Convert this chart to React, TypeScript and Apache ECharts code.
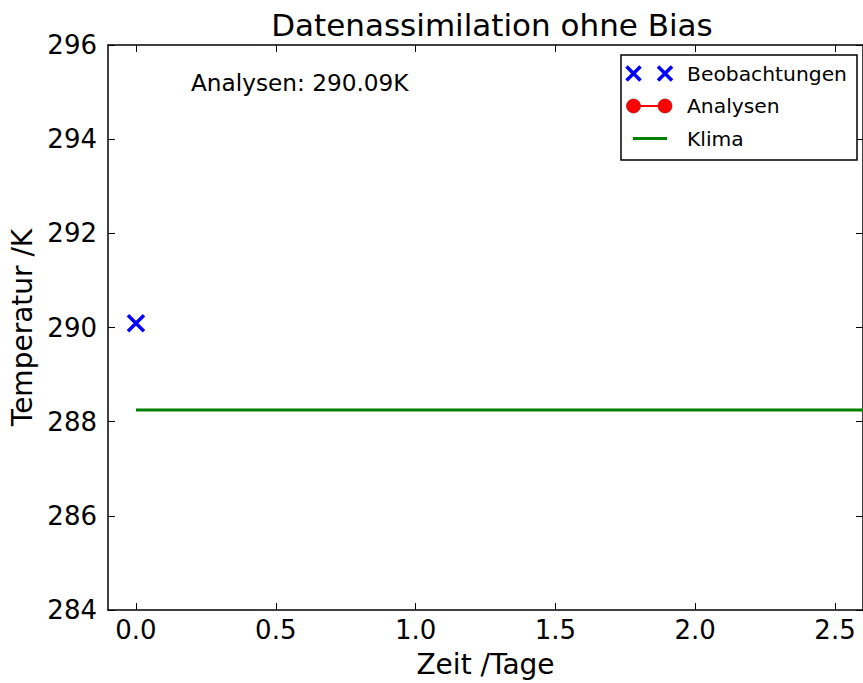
import React, { useEffect, useRef } from "react";
import * as echarts from "echarts";

const xTicks = [0, 0.5, 1.0, 1.5, 2.0, 2.5];
const yTicks = [284, 286, 288, 290, 292, 294, 296];
const obsTimes = [0];
const obsValues = [290.09];
const anaTimes: number[] = [];
const anaValues: number[] = [];
const climaTimes = [0, 3];
const climaValues = [288.25, 288.25];
const titleText = "Datenassimilation ohne Bias";
const annotation = "Analysen: 290.09K";
const legendNames = ["Beobachtungen", "Analysen", "Klima"];

const FONT = "DejaVu Sans";
const X_PATH = "path://M0,0L10,10M10,0L0,10";

export default function App() {
  const ref = useRef<HTMLDivElement>(null);
  useEffect(() => {
    if (!ref.current) return;
    const chart = echarts.init(ref.current, null, { renderer: "svg" });
    const axisLine = { show: true, onZero: false, lineStyle: { color: "#000", width: 1.5 } };
    const gl = 105.7, gt = 45, gw = 761, gh = 572.3;
    const legX = 621, legY = 55, legW = 236, legH = 105;
    const rows = [73.5, 106, 138.5];
    const graphic: any[] = [
      {
        type: "text",
        left: 191, top: 71,
        style: { text: annotation, font: `23.2px "${FONT}"`, fill: "#000" },
        z: 10,
      },
      {
        type: "rect",
        shape: { x: legX, y: legY, width: legW, height: legH },
        style: { fill: "#fff", stroke: "#000", lineWidth: 1.5 },
        z: 10,
      },
      ...[633.5, 665].map((cx) => ({
        type: "polyline",
        shape: { points: [[cx - 7, rows[0] - 7], [cx + 7, rows[0] + 7]] },
        style: { stroke: "#0000ff", lineWidth: 3.5, fill: "none" },
        z: 11,
      })),
      ...[633.5, 665].map((cx) => ({
        type: "polyline",
        shape: { points: [[cx + 7, rows[0] - 7], [cx - 7, rows[0] + 7]] },
        style: { stroke: "#0000ff", lineWidth: 3.5, fill: "none" },
        z: 11,
      })),
      {
        type: "line",
        shape: { x1: 633.5, y1: rows[1], x2: 665, y2: rows[1] },
        style: { stroke: "#ff0000", lineWidth: 2 },
        z: 11,
      },
      ...[633.5, 665].map((cx) => ({
        type: "circle",
        shape: { cx, cy: rows[1], r: 7 },
        style: { fill: "#ff0000", stroke: "#900000", lineWidth: 0.6 },
        z: 12,
      })),
      {
        type: "line",
        shape: { x1: 633, y1: rows[2], x2: 667, y2: rows[2] },
        style: { stroke: "#008000", lineWidth: 3 },
        z: 11,
      },
      ...legendNames.map((n, i) => ({
        type: "text",
        x: 687, y: rows[i],
        style: { text: n, font: `20.3px "${FONT}"`, fill: "#000", verticalAlign: "middle", align: "left" },
        z: 11,
      })),
    ];
    chart.setOption({
      animation: false,
      backgroundColor: "#fff",
      title: {
        text: titleText,
        left: 487,
        top: 4,
        textAlign: "center",
        textStyle: { fontFamily: FONT, fontSize: 31, fontWeight: "normal", color: "#000" },
      },
      grid: { left: gl, top: gt, width: gw, height: gh, containLabel: false },
      xAxis: [
        {
          type: "value", min: -0.1, max: 2.6, position: "bottom",
          axisLine, splitLine: { show: false },
          name: "Zeit /Tage", nameLocation: "middle", nameGap: 40,
          nameTextStyle: { fontFamily: FONT, fontSize: 28, color: "#000" },
          axisTick: { show: true, inside: true, length: 7, customValues: xTicks, lineStyle: { color: "#000", width: 1 } },
          axisLabel: { show: true, customValues: xTicks, margin: 7, fontFamily: FONT, fontSize: 26, color: "#000", formatter: (v: number) => v.toFixed(1) },
        },
        {
          type: "value", min: -0.1, max: 2.6, position: "top",
          axisLine, splitLine: { show: false },
          axisTick: { show: true, inside: true, length: 7, customValues: xTicks, lineStyle: { color: "#000", width: 1 } },
          axisLabel: { show: false },
        },
      ],
      yAxis: [
        {
          type: "value", min: 284, max: 296, interval: 2, position: "left",
          axisLine, splitLine: { show: false },
          name: "Temperatur /K", nameLocation: "middle", nameGap: 72,
          nameTextStyle: { fontFamily: FONT, fontSize: 28, color: "#000" },
          axisTick: { show: true, inside: true, length: 7, lineStyle: { color: "#000", width: 1 } },
          axisLabel: { show: true, margin: 11, fontFamily: FONT, fontSize: 26, color: "#000", customValues: yTicks },
        },
        {
          type: "value", min: 284, max: 296, interval: 2, position: "right",
          axisLine, splitLine: { show: false },
          axisTick: { show: true, inside: true, length: 7, lineStyle: { color: "#000", width: 1 } },
          axisLabel: { show: false },
        },
      ],
      series: [
        {
          name: legendNames[0], type: "scatter",
          data: obsTimes.map((t, i) => [t, obsValues[i]]),
          symbol: X_PATH, symbolSize: 16,
          itemStyle: { color: "transparent", borderColor: "#0000ff", borderWidth: 3.5, opacity: 1 },
          z: 5,
        },
        {
          name: legendNames[1], type: "line",
          data: anaTimes.map((t, i) => [t, anaValues[i]]),
          symbol: "circle", symbolSize: 14,
          lineStyle: { color: "#ff0000", width: 2 },
          itemStyle: { color: "#ff0000" },
        },
        {
          name: legendNames[2], type: "line",
          data: climaTimes.map((t, i) => [t, climaValues[i]]),
          showSymbol: false, symbol: "none",
          lineStyle: { color: "#008000", width: 3 },
          clip: true,
        },
      ],
      graphic,
    });
    return () => chart.dispose();
  }, []);
  return <div ref={ref} style={{ position: "absolute", left: 0, top: 0, width: 863, height: 683 }} />;
}
